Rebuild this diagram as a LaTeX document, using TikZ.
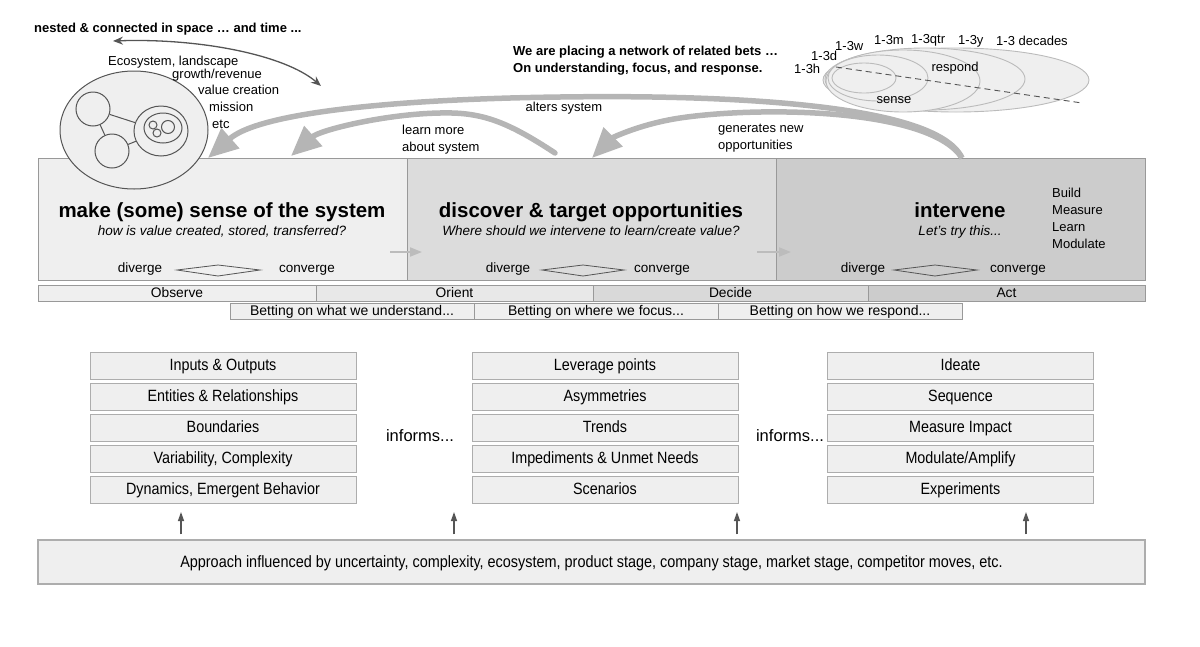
\documentclass[tikz,border=0pt]{standalone}
\usepackage{fontspec}
\setmainfont{Liberation Sans}
\newfontfamily\narrowfont[FakeStretch=0.88]{Liberation Sans}
\usetikzlibrary{arrows.meta,shapes.geometric}
\definecolor{bxA}{HTML}{EFEFEF}
\definecolor{bxB}{HTML}{DCDCDC}
\definecolor{bxC}{HTML}{CCCCCC}
\definecolor{bxO}{HTML}{E8E8E8}
\definecolor{bxD}{HTML}{D9D9D9}
\definecolor{edgeG}{HTML}{999999}
\definecolor{bigArr}{HTML}{B5B5B5}
\definecolor{darkG}{HTML}{555555}
\definecolor{ellE}{HTML}{BBBBBB}
\tikzset{
  phase/.style={draw=edgeG, line width=1pt, anchor=north west, minimum height=122pt, minimum width=369pt, inner sep=0pt},
  ooda/.style={draw=edgeG, line width=0.8pt, minimum height=16pt, inner sep=0pt, text height=10pt, text depth=2pt, font=\fontsize{13.8}{15}\selectfont},
  betbox/.style={draw=edgeG, line width=0.8pt, fill=bxA, minimum height=16pt, minimum width=244pt, inner sep=0pt, text height=10pt, text depth=2pt, font=\fontsize{14}{15}\selectfont},
  listbox/.style={draw=edgeG!80, line width=0.8pt, fill=bxA, minimum height=27pt, minimum width=266pt, inner sep=0pt, text height=12.5pt, text depth=2pt, font=\narrowfont\fontsize{16.3}{18}\selectfont},
  title/.style={font=\bfseries\fontsize{20.5}{23}\selectfont, inner sep=0pt, text height=15pt, text depth=4pt},
  sub/.style={font=\itshape\fontsize{13.5}{15}\selectfont, inner sep=0pt, text height=9.5pt, text depth=2.5pt},
  multi/.style={font=\fontsize{13}{17}\selectfont, inner sep=0pt, align=left},
  small/.style={font=\fontsize{13}{15}\selectfont, inner sep=0pt, text height=9.5pt, text depth=2.5pt},
  dg/.style={font=\fontsize{13.5}{15}\selectfont, inner sep=0pt, text height=9.5pt, text depth=2.5pt},
  bigarrow/.style={draw=bigArr, line width=5.5pt, -{Triangle[length=30pt,width=26pt]}},
  smallarrow/.style={draw=bigArr!90, line width=1.8pt, -{Triangle[length=12pt,width=9pt]}},
  uparrow/.style={draw=darkG, line width=1.3pt, -{Triangle[length=9pt,width=6pt]}},
  ell/.style={draw=ellE, line width=0.9pt, fill=bxA},
  circ/.style={draw=darkG, line width=1pt}
}
\begin{document}
\begin{tikzpicture}[x=1pt,y=-1pt]
\useasboundingbox (0,0) rectangle (1200,646);

% ---------- phase boxes ----------
\node[phase, fill=bxA] (p1) at (38,158) {};
\node[phase, fill=bxB] (p2) at (407,158) {};
\node[phase, fill=bxC] (p3) at (776,158) {};

% ---------- top left ----------
\node[anchor=west, font=\bfseries\fontsize{13}{15}\selectfont, inner sep=0pt, text height=9.5pt, text depth=2.5pt] (nested) at (34,29) {nested \& connected in space … and time ...};
\coordinate (dblA) at (113,41);
\coordinate (dblB) at (321,86);
\draw[darkG, line width=1.3pt, {Stealth[length=10pt,width=8pt]}-{Stealth[length=10pt,width=8pt]}] (dblA) .. controls (200,38) and (285,55) .. (dblB);

\node[circ, fill=bxA, ellipse, minimum width=148pt, minimum height=118pt, inner sep=0pt] (eco) at (134,130) {};
\node[circ, circle, minimum size=34pt, inner sep=0pt] (c1) at (93,109) {};
\node[circ, circle, minimum size=34pt, inner sep=0pt] (c2) at (112,151) {};
\node[circ, ellipse, minimum width=54pt, minimum height=50pt, inner sep=0pt] (cin) at (161,131) {};
\node[circ, ellipse, minimum width=38pt, minimum height=30pt, inner sep=0pt] (cin2) at (163,128) {};
\node[circ, circle, minimum size=8pt, inner sep=0pt] (d1) at (153,125) {};
\node[circ, circle, minimum size=8pt, inner sep=0pt] (d2) at (157,133) {};
\node[circ, circle, minimum size=13pt, inner sep=0pt] (d3) at (168,127) {};
\draw[circ] (c1) -- (c2);
\draw[circ] (c1) -- (cin);
\draw[circ] (c2) -- (cin);

\node[small, anchor=west] (l1) at (108,62) {Ecosystem, landscape};
\node[small, anchor=west] (l2) at (172,75) {growth/revenue};
\node[small, anchor=west] (l3) at (198,91) {value creation};
\node[small, anchor=west] (l4) at (209,108) {mission};
\node[small, anchor=west] (l5) at (212,125) {etc};

% ---------- top right ----------
\node[anchor=west, font=\bfseries\fontsize{13}{15}\selectfont, inner sep=0pt, text height=9.5pt, text depth=2.5pt] (bets1) at (513,52) {We are placing a network of related bets …};
\node[anchor=west, font=\bfseries\fontsize{13}{15}\selectfont, inner sep=0pt, text height=9.5pt, text depth=2.5pt] (bets2) at (513,69) {On understanding, focus, and response.};

\node[ell, ellipse, minimum width=266pt, minimum height=64pt, inner sep=0pt] (e1) at (956,80) {};
\node[ell, ellipse, minimum width=200pt, minimum height=62pt, inner sep=0pt] (e2) at (925,79) {};
\node[ell, ellipse, minimum width=154pt, minimum height=62pt, inner sep=0pt] (e3) at (903,81) {};
\node[ell, ellipse, minimum width=100pt, minimum height=46pt, inner sep=0pt] (e4) at (878,78) {};
\node[ell, ellipse, minimum width=64pt, minimum height=30pt, inner sep=0pt] (e5) at (864,78) {};
\coordinate (dashA) at (836,67);
\coordinate (dashB) at (1082,103);
\draw[darkG, line width=0.9pt, dash pattern=on 6pt off 4pt] (dashA) -- (dashB);

\node[small, anchor=west] (t1) at (794,70) {1-3h};
\node[small, anchor=west] (t2) at (811,57) {1-3d};
\node[small, anchor=west] (t3) at (835,47) {1-3w};
\node[small, anchor=west] (t4) at (874,41) {1-3m};
\node[small, anchor=west] (t5) at (911,40) {1-3qtr};
\node[small, anchor=west] (t6) at (958,41) {1-3y};
\node[small, anchor=west] (t7) at (996,42) {1-3 decades};
\node[small] (resp) at (955,68) {respond};
\node[small] (sens) at (894,100) {sense};

% ---------- phase texts ----------
\node[title] (h1) at (222,212) {make (some) sense of the system};
\node[sub] (s1) at (222,232) {how is value created, stored, transferred?};
\node[title] (h2) at (591,212) {discover \& target opportunities};
\node[sub] (s2) at (591,232) {Where should we intervene to learn/create value?};
\node[title] (h3) at (960,212) {intervene};
\node[sub] (s3) at (960,232) {Let’s try this...};
\node[multi, anchor=north west] (bml) at (1052,188) {Build\\Measure\\Learn\\Modulate};

% diverge / converge
\node[dg] (dv1) at (140,269) {diverge};
\draw[darkG, line width=0.8pt] (177,270) -- (218,265) -- (260,270) -- (218,276) -- cycle;
\node[dg] (cv1) at (307,269) {converge};
\node[dg] (dv2) at (508,269) {diverge};
\draw[darkG, line width=0.8pt] (542,270) -- (583,265) -- (624,270) -- (583,276) -- cycle;
\node[dg] (cv2) at (662,269) {converge};
\node[dg] (dv3) at (863,269) {diverge};
\draw[darkG, line width=0.8pt] (894,270) -- (935,265) -- (977,270) -- (935,276) -- cycle;
\node[dg] (cv3) at (1018,269) {converge};

% small arrows between phases
\coordinate (sa1) at (390,252);
\coordinate (sb1) at (422,252);
\coordinate (sa2) at (757,252);
\coordinate (sb2) at (791,252);
\draw[smallarrow] (sa1) -- (sb1);
\draw[smallarrow] (sa2) -- (sb2);

% ---------- big feedback arrows ----------
\coordinate (start3) at (962,158);
\coordinate (start2) at (555,153);
\coordinate (tip1) at (208,158);
\coordinate (tip2) at (291,156);
\coordinate (tip3) at (592,158);
\draw[bigarrow] (start3) .. controls (935,100) and (700,95) .. (560,97) .. controls (400,99) and (260,112) .. (tip1);
\draw[bigarrow, line cap=round] (start2) .. controls (505,120) and (480,112) .. (440,113) .. controls (385,114) and (320,130) .. (tip2);
\draw[bigarrow] (start3) .. controls (930,108) and (760,106) .. (680,118) .. controls (640,124) and (612,138) .. (tip3);

\node[small] (alt) at (564,108) {alters system};
\node[multi, anchor=west] (learn) at (402,140) {learn more\\about system};
\node[multi, anchor=west] (gen) at (718,138) {generates new\\opportunities};

% ---------- OODA ----------
\node[ooda, fill=bxA, minimum width=278pt] (obs) at (177,293) {Observe};
\node[ooda, fill=bxO, minimum width=277pt] (ori) at (454.5,293) {Orient};
\node[ooda, fill=bxD, minimum width=275pt] (dec) at (730.5,293) {Decide};
\node[ooda, fill=bxC, minimum width=277pt] (act) at (1006.5,293) {Act};

\node[betbox] (b1) at (352,311) {Betting on what we understand...};
\node[betbox] (b2) at (596,311) {Betting on where we focus...};
\node[betbox] (b3) at (840,311) {Betting on how we respond...};

% ---------- lists ----------
\node[listbox] (a1) at (223,365.5) {Inputs \& Outputs};
\node[listbox] (a2) at (223,396.5) {Entities \& Relationships};
\node[listbox] (a3) at (223,427.5) {Boundaries};
\node[listbox] (a4) at (223,458.5) {Variability, Complexity};
\node[listbox] (a5) at (223,489.5) {Dynamics, Emergent Behavior};

\node[listbox] (m1) at (605,365.5) {Leverage points};
\node[listbox] (m2) at (605,396.5) {Asymmetries};
\node[listbox] (m3) at (605,427.5) {Trends};
\node[listbox] (m4) at (605,458.5) {Impediments \& Unmet Needs};
\node[listbox] (m5) at (605,489.5) {Scenarios};

\node[listbox] (r1) at (960.5,365.5) {Ideate};
\node[listbox] (r2) at (960.5,396.5) {Sequence};
\node[listbox] (r3) at (960.5,427.5) {Measure Impact};
\node[listbox] (r4) at (960.5,458.5) {Modulate/Amplify};
\node[listbox] (r5) at (960.5,489.5) {Experiments};

\node[font=\fontsize{16.5}{18}\selectfont, inner sep=0pt, text height=12pt, text depth=3.5pt] (inf1) at (420,437) {informs...};
\node[font=\fontsize{16.5}{18}\selectfont, inner sep=0pt, text height=12pt, text depth=3.5pt] (inf2) at (790,437) {informs...};

% ---------- bottom ----------
\node[draw=edgeG!80, line width=1.5pt, fill=bxA, minimum width=1107pt, minimum height=44pt, inner sep=0pt, text height=12.5pt, text depth=2pt, font=\narrowfont\fontsize{16.4}{18}\selectfont] (base) at (591.5,562) {Approach influenced by uncertainty, complexity, ecosystem, product stage, company stage, market stage, competitor moves, etc.};

\coordinate (u1) at (181,512);
\coordinate (u2) at (454,512);
\coordinate (u3) at (737,512);
\coordinate (u4) at (1026,512);
\draw[uparrow] (base.north -| u1) ++(0,-5) -- (u1);
\draw[uparrow] (base.north -| u2) ++(0,-5) -- (u2);
\draw[uparrow] (base.north -| u3) ++(0,-5) -- (u3);
\draw[uparrow] (base.north -| u4) ++(0,-5) -- (u4);
\end{tikzpicture}
\end{document}
